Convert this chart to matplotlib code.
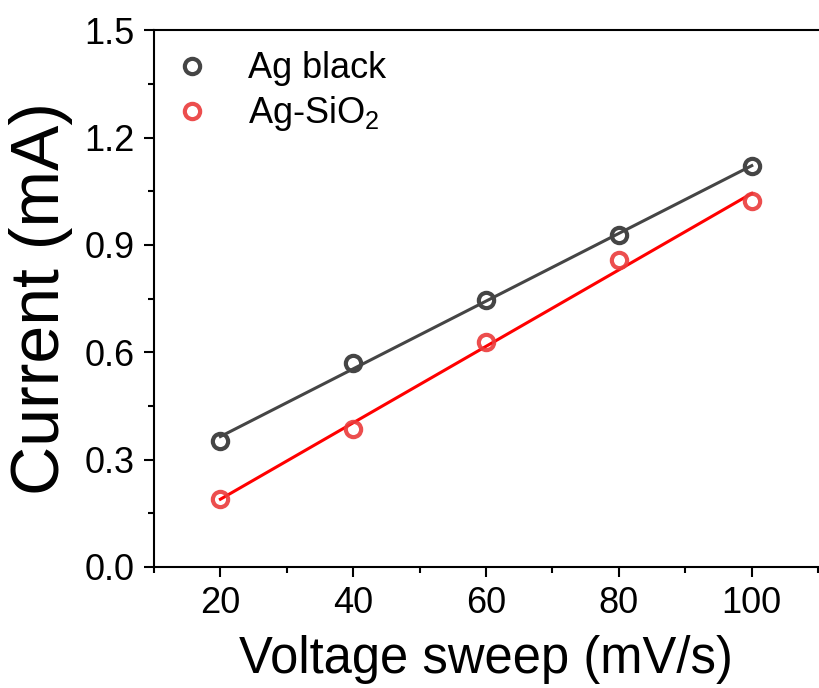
import numpy as np
import matplotlib
matplotlib.use("Agg")
import matplotlib.pyplot as plt
from matplotlib.ticker import MultipleLocator

plt.rcParams['font.family'] = ['Liberation Sans', 'DejaVu Sans']
plt.rcParams['mathtext.fontset'] = 'custom'
plt.rcParams['mathtext.rm'] = 'Liberation Sans'

sweep = [20, 40, 60, 80, 100]
ag_black = [0.352, 0.570, 0.746, 0.927, 1.120]
ag_sio2 = [0.190, 0.385, 0.628, 0.858, 1.022]

grey = '#454545'
red_mk = '#ea3b3b'
red_ln = '#ff0000'

fig = plt.figure(figsize=(8.19, 6.88), dpi=100)
ax = fig.add_axes([0.188, 0.176, 0.811, 0.780])

# linear fits
x = np.array(sweep)
for y, c in [(ag_black, grey), (ag_sio2, red_ln)]:
    k, b = np.polyfit(x, y, 1)
    ax.plot(x, k * x + b, color=c, lw=2.2, zorder=2)

ax.plot(sweep, ag_black, 'o', ms=11, mew=3, mfc='none', mec=grey,
        label='Ag black', zorder=3)
ax.plot(sweep, ag_sio2, 'o', ms=11, mew=3, mfc='none', mec=red_mk,
        alpha=0.9, label=r'Ag-SiO$_2$', zorder=3)

ax.set_xlim(10, 110)
ax.set_ylim(0, 1.5)
ax.xaxis.set_major_locator(MultipleLocator(20))
ax.xaxis.set_minor_locator(MultipleLocator(10))
ax.yaxis.set_major_locator(MultipleLocator(0.3))
ax.yaxis.set_minor_locator(MultipleLocator(0.15))
ax.yaxis.set_major_formatter(plt.FuncFormatter(lambda v, p: f'{v:.1f}'))

for s in ax.spines.values():
    s.set_linewidth(1.5)
ax.spines['right'].set_visible(False)
ax.tick_params(which='major', direction='out', length=7, width=1.5,
               labelsize=26, pad=7)
ax.tick_params(which='minor', direction='out', length=4, width=1.5)

ax.set_xlabel('Voltage sweep (mV/s)', fontsize=36.5, labelpad=10)
ax.set_ylabel('Current (mA)', fontsize=49, labelpad=8)

ax.legend(loc='upper left', bbox_to_anchor=(-0.022, 1.008), frameon=False,
          fontsize=26, handletextpad=0.8, labelspacing=0.22,
          borderaxespad=0.3, handlelength=1.5)

fig.savefig('out.png', dpi=100)
